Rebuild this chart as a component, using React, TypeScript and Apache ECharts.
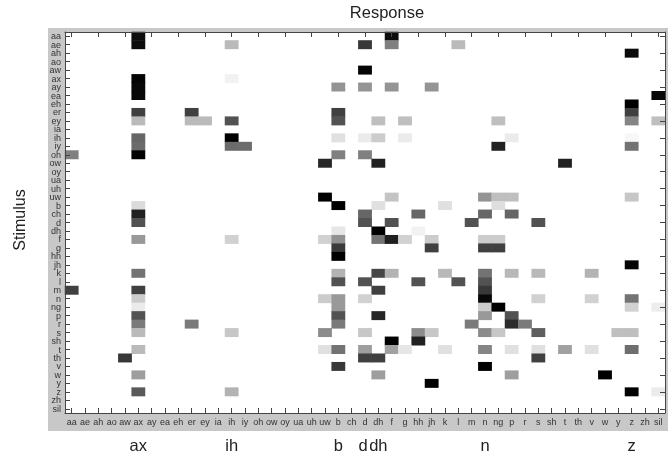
import React, { useEffect, useRef } from "react";
import * as echarts from "echarts";

const phones = ["aa","ae","ah","ao","aw","ax","ay","ea","eh","er","ey","ia","ih","iy","oh","ow","oy","ua","uh","uw","b","ch","d","dh","f","g","hh","jh","k","l","m","n","ng","p","r","s","sh","t","th","v","w","y","z","zh","sil"];
const markedResponses = ["ax","ih","b","d","dh","n","z"];

// [stimulus, response, confusion (0 white .. 1 black)]
const cells: [string, string, number][] = [
  ["aa","ax",.95],["aa","f",.95],
  ["ae","ax",.95],["ae","ih",.27],["ae","d",.78],["ae","f",.5],["ae","l",.27],
  ["ah","z",.96],
  ["aw","d",.98],
  ["ax","ax",.98],["ax","ih",.05],
  ["ay","ax",.97],["ay","b",.42],["ay","d",.42],["ay","f",.42],["ay","jh",.42],
  ["ea","ax",.97],["ea","sil",.97],
  ["eh","z",1],
  ["er","ax",.75],["er","er",.75],["er","b",.75],["er","z",.75],
  ["ey","ax",.27],["ey","er",.27],["ey","ey",.27],["ey","ih",.68],["ey","b",.68],["ey","dh",.25],["ey","g",.25],["ey","ng",.25],["ey","z",.48],["ey","sil",.25],
  ["ih","ax",.6],["ih","ih",1],["ih","b",.12],["ih","d",.08],["ih","dh",.2],["ih","g",.08],["ih","p",.08],["ih","z",.03],
  ["iy","ax",.58],["iy","ih",.58],["iy","iy",.58],["iy","ng",.87],["iy","z",.55],
  ["oh","aa",.5],["oh","ax",1],["oh","b",.5],["oh","d",.5],
  ["ow","uw",.85],["ow","dh",.87],["ow","t",.87],
  ["uw","uw",1],["uw","f",.23],["uw","n",.42],["uw","ng",.25],["uw","p",.25],["uw","z",.22],
  ["b","ax",.14],["b","b",1],["b","dh",.12],["b","k",.12],["b","ng",.13],
  ["ch","ax",.87],["ch","d",.6],["ch","hh",.6],["ch","n",.6],["ch","p",.6],
  ["d","ax",.68],["d","d",.68],["d","f",.68],["d","m",.68],["d","s",.68],
  ["dh","b",.1],["dh","dh",1],["dh","hh",.05],
  ["f","ax",.4],["f","ih",.18],["f","uw",.18],["f","b",.43],["f","dh",.55],["f","f",.88],["f","g",.18],["f","jh",.2],["f","n",.2],["f","ng",.2],
  ["g","b",.77],["g","jh",.75],["g","n",.75],["g","ng",.75],
  ["hh","b",1],
  ["jh","z",.98],
  ["k","ax",.55],["k","b",.3],["k","dh",.72],["k","f",.3],["k","k",.28],["k","n",.55],["k","p",.28],["k","s",.28],["k","v",.3],
  ["l","b",.68],["l","d",.68],["l","hh",.68],["l","l",.68],["l","n",.68],
  ["m","aa",.75],["m","ax",.75],["m","dh",.75],["m","n",.78],
  ["n","ax",.2],["n","uw",.2],["n","b",.4],["n","d",.18],["n","n",.97],["n","s",.18],["n","v",.18],["n","z",.55],
  ["ng","ax",.08],["ng","b",.4],["ng","n",.2],["ng","ng",1],["ng","z",.18],["ng","sil",.07],
  ["p","ax",.68],["p","b",.68],["p","dh",.85],["p","n",.4],["p","p",.68],
  ["r","ax",.52],["r","er",.52],["r","b",.52],["r","m",.52],["r","p",.83],["r","r",.52],
  ["s","ax",.27],["s","ih",.22],["s","uw",.45],["s","d",.22],["s","hh",.45],["s","jh",.22],["s","n",.45],["s","ng",.22],["s","s",.63],["s","y",.25],["s","z",.25],
  ["sh","f",1],["sh","hh",.87],
  ["t","ax",.27],["t","uw",.12],["t","b",.55],["t","d",.38],["t","f",.37],["t","g",.1],["t","k",.12],["t","n",.48],["t","p",.12],["t","s",.12],["t","t",.37],["t","v",.12],["t","z",.57],
  ["th","aw",.78],["th","d",.75],["th","dh",.75],["th","s",.75],
  ["v","b",.78],["v","n",1],
  ["w","ax",.38],["w","dh",.38],["w","p",.38],["w","w",1],
  ["y","jh",1],
  ["z","ax",.65],["z","ih",.3],["z","z",1],["z","sil",.08],
];

const FONT = "Liberation Sans";
const axisLine = { show: true, onZero: false, lineStyle: { color: "#444444", width: 1 } };
const ticks = { show: true, inside: true, length: 5, alignWithLabel: true, lineStyle: { color: "#444444", width: 1 } };
const tickText = { show: true, interval: 0, fontFamily: FONT, fontSize: 9, color: "#333333", margin: 4 };

export default function App() {
  const ref = useRef<HTMLDivElement>(null);
  useEffect(() => {
    document.body.style.margin = "0";
    const chart = echarts.init(ref.current!, undefined, { renderer: "svg" });
    chart.setOption({
      animation: false,
      backgroundColor: "#ffffff",
      grid: { left: 65, right: 4, top: 32, bottom: 40, show: true, backgroundColor: "#ffffff", borderWidth: 0 },
      graphic: [
        { type: "rect", z: -10, silent: true, shape: { x: 48, y: 28, width: 620, height: 403 }, style: { fill: "#c8c8c8" } },
        { type: "text", x: 387, y: 12, style: { text: "Response", font: `16.5px ${FONT}`, fill: "#222222", align: "center", verticalAlign: "middle" } },
        { type: "text", x: 19, y: 220, rotation: Math.PI / 2, style: { text: "Stimulus", font: `16px ${FONT}`, fill: "#222222", align: "center", verticalAlign: "middle" } },
      ],
      visualMap: { show: false, min: 0, max: 1, seriesIndex: 0, inRange: { color: ["#ffffff", "#000000"] } },
      xAxis: [
        { type: "category", position: "bottom", data: phones, z: 5, axisLine, axisTick: ticks, axisLabel: { ...tickText, margin: 4 }, splitLine: { show: false } },
        { type: "category", position: "top", data: phones, z: 5, axisLine, axisTick: ticks, axisLabel: { show: false }, splitLine: { show: false } },
        { type: "category", position: "bottom", offset: 23, data: phones, z: 5, axisLine: { show: false }, axisTick: { show: false }, splitLine: { show: false },
          axisLabel: { show: true, interval: 0, fontFamily: FONT, fontSize: 16.5, color: "#222222", margin: 0,
            formatter: (v: string) => (v === "d" ? "{shift|d}" : markedResponses.includes(v) ? v : ""),
            rich: { shift: { fontFamily: FONT, fontSize: 16.5, color: "#222222", padding: [0, 4, 0, 0] } } } },
      ],
      yAxis: [
        { type: "category", position: "left", inverse: true, data: phones, z: 5, axisLine, axisTick: ticks, axisLabel: tickText, splitLine: { show: false } },
        { type: "category", position: "right", inverse: true, data: phones, z: 5, axisLine, axisTick: ticks, axisLabel: { show: false }, splitLine: { show: false } },
      ],
      series: [
        {
          type: "heatmap",
          xAxisIndex: 0,
          yAxisIndex: 0,
          data: cells.map(([s, r, v]) => [phones.indexOf(r), phones.indexOf(s), v]),
          itemStyle: { borderWidth: 0 },
          emphasis: { disabled: true },
        },
      ],
    });
    return () => chart.dispose();
  }, []);
  return <div ref={ref} style={{ width: 669, height: 453, filter: "blur(0.35px)" }} />;
}
